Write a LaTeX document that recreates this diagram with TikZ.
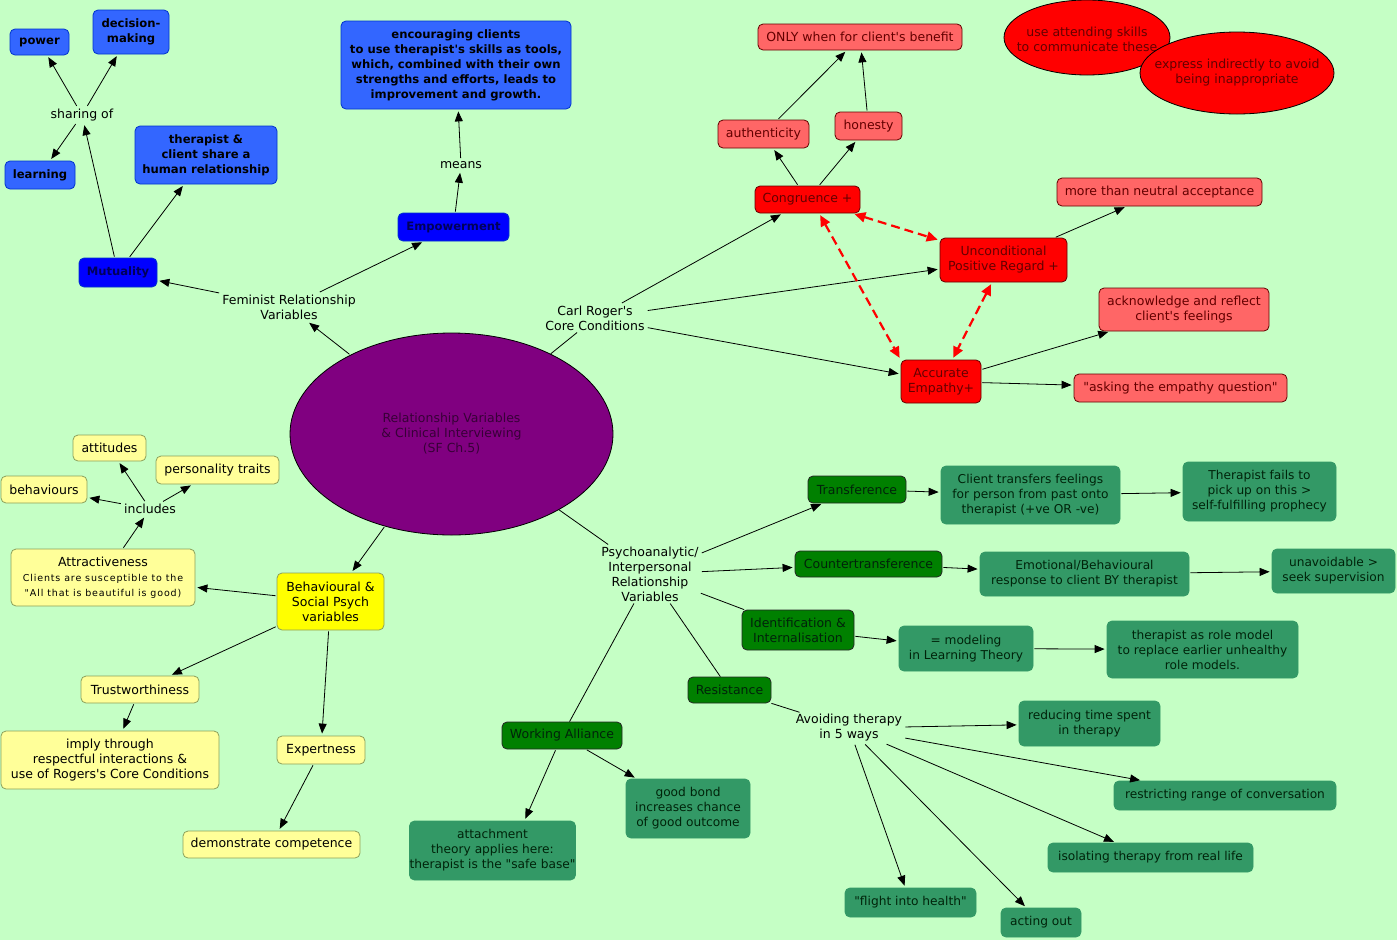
\documentclass[tikz,border=0pt]{standalone}
\usepackage{fontspec}
\setmainfont{DejaVu Sans}[Ligatures=TeXOff]
\newfontfamily\spacedfont{DejaVu Sans}[Ligatures=TeXOff,LetterSpace=9]
\newcommand{\smsp}{\spacedfont\fontsize{9.5}{14}\selectfont}
\usetikzlibrary{arrows.meta,shapes.geometric}
\definecolor{cBg}{RGB}{197,255,197}
\definecolor{cBlue}{RGB}{51,102,255}
\definecolor{cBlueB}{RGB}{0,51,204}
\definecolor{cDBlue}{RGB}{0,0,255}
\definecolor{cDBlueT}{RGB}{0,0,90}
\definecolor{cPurple}{RGB}{128,0,128}
\definecolor{cPurpleT}{RGB}{56,0,56}
\definecolor{cLRed}{RGB}{255,102,102}
\definecolor{cRed}{RGB}{255,0,0}
\definecolor{cRedT}{RGB}{100,0,0}
\definecolor{cLYel}{RGB}{255,255,153}
\definecolor{cYel}{RGB}{255,255,0}
\definecolor{cYelB}{RGB}{140,160,90}
\definecolor{cDGreen}{RGB}{0,128,0}
\definecolor{cMGreen}{RGB}{51,153,102}
\definecolor{cGreenT}{RGB}{0,35,10}
\tikzset{
  nbase/.style={rounded corners=5pt, draw, align=center, inner sep=0pt, line width=0.8pt,
    font=\fontsize{12.5}{15}\selectfont},
  bl/.style={nbase, fill=cBlue, draw=cBlueB, text=black, font=\fontsize{11.6}{15}\selectfont\bfseries},
  dbl/.style={nbase, fill=cDBlue, draw=cBlueB, text=cDBlueT, font=\fontsize{11.6}{15}\selectfont\bfseries},
  lred/.style={nbase, fill=cLRed, draw=cRedT, text=cRedT},
  rd/.style={nbase, fill=cRed, draw=cRedT, text=cRedT},
  lyel/.style={nbase, fill=cLYel, draw=cYelB},
  yel/.style={nbase, fill=cYel, draw=cYelB},
  dgr/.style={nbase, fill=cDGreen, draw=black!85, text=cGreenT},
  mgr/.style={nbase, fill=cMGreen, draw=cMGreen, text=cGreenT, font=\fontsize{12.2}{15}\selectfont},
  lbl/.style={align=center, inner sep=2pt, font=\fontsize{12.5}{15}\selectfont},
  oval/.style={ellipse, draw=black, line width=0.8pt, inner sep=0pt},
  arr/.style={draw=black, line width=0.8pt, -{Triangle[length=10pt,width=8pt]}, shorten >=2pt, shorten <=1pt},
  ln/.style={draw=black, line width=0.8pt},
  dsh/.style={draw=red, line width=2.2pt, dash pattern=on 9pt off 5pt,
    {Triangle[length=11pt,width=10pt]}-{Triangle[length=11pt,width=10pt]}, shorten >=2pt, shorten <=2pt},
}
\begin{document}
\begin{tikzpicture}[x=1pt,y=-1pt]
\useasboundingbox (0,0) rectangle (1397,940);
\fill[cBg] (0,0) rectangle (1397,940);

% centre
\node[oval, fill=cPurple, minimum width=323, minimum height=202] (ctr) at (451.5,434) {};
\node[lbl, text=cPurpleT] (ctrt) at (ctr.center) {Relationship Variables\\ \& Clinical Interviewing\\(SF Ch.5)};

% blue
\node[bl, minimum width=59, minimum height=26] (power) at (39.5,42) {power};
\node[bl, minimum width=76, minimum height=44] (dec) at (131,32) {decision-\\making};
\node[bl, minimum width=70, minimum height=28] (learn) at (40,175) {learning};
\node[bl, minimum width=142, minimum height=58] (share) at (206,155) {therapist \&\\client share a\\human relationship};
\node[bl, minimum width=230, minimum height=88] (enc) at (456,65) {encouraging clients\\to use therapist's skills as tools,\\which, combined with their own\\strengths and efforts, leads to\\improvement and growth.};
\node[dbl, minimum width=111, minimum height=28] (emp) at (453.5,227) {Empowerment};
\node[dbl, minimum width=78, minimum height=29] (mut) at (118,272.5) {Mutuality};
\node[lbl] (sharing) at (82,115) {sharing of};
\node[lbl] (means) at (461,165) {means};
\node[lbl] (fem) at (289,307) {Feminist Relationship\\Variables};

% red
\node[lbl] (carl) at (595,318) {Carl Roger's\\Core Conditions};
\node[lred, minimum width=204, minimum height=26] (only) at (860,37) {ONLY when for client's benefit};
\node[lred, minimum width=91, minimum height=28] (auth) at (763.5,134) {authenticity};
\node[lred, minimum width=67, minimum height=28] (hon) at (868.5,126) {honesty};
\node[rd, minimum width=105, minimum height=27] (cong) at (807.5,199.5) {Congruence +};
\node[lred, minimum width=205, minimum height=28] (mtn) at (1159.5,192) {more than neutral acceptance};
\node[rd, minimum width=127, minimum height=44] (upr) at (1003.5,260) {Unconditional\\Positive Regard +};
\node[lred, minimum width=170, minimum height=43] (ack) at (1184,309.5) {acknowledge and reflect\\client's feelings};
\node[rd, minimum width=80, minimum height=43] (ae) at (941,381.5) {Accurate\\Empathy+};
\node[lred, minimum width=213, minimum height=28] (ask) at (1180.5,388) {"asking the empathy question"};
\node[oval, fill=cRed, minimum width=166, minimum height=75] (ell1) at (1087,37.5) {};
\node[lbl, text=cRedT] (ell1t) at (1087,39) {use attending skills\\to communicate these};
\node[oval, fill=cRed, minimum width=194, minimum height=82] (ell2) at (1237,73) {};
\node[lbl, text=cRedT] (ell2t) at (ell2.center) {express indirectly to avoid\\being inappropriate};

% yellow
\node[lyel, minimum width=73, minimum height=26] (att) at (109.5,448) {attitudes};
\node[lyel, minimum width=123, minimum height=28] (pers) at (217.5,470) {personality traits};
\node[lyel, minimum width=86, minimum height=27] (beh) at (44,489.5) {behaviours};
\node[lbl] (incl) at (150,509) {includes};
\node[lyel, minimum width=184, minimum height=57] (attr) at (103,577.5)
  {Attractiveness\\{\smsp Clients are susceptible to the}\\{\smsp "All that is beautiful is good)}};
\node[yel, minimum width=107, minimum height=57] (bsp) at (330.5,601.5) {Behavioural \&\\Social Psych\\variables};
\node[lyel, minimum width=118, minimum height=27] (trust) at (140,689.5) {Trustworthiness};
\node[lyel, minimum width=218, minimum height=58] (imply) at (110,760) {imply through\\respectful interactions \&\\use of Rogers's Core Conditions};
\node[lyel, minimum width=88, minimum height=28] (expt) at (321,750) {Expertness};
\node[lyel, minimum width=177, minimum height=27] (demo) at (271.5,844.5) {demonstrate competence};

% green
\node[lbl] (psy) at (650,574) {Psychoanalytic/\\Interpersonal\\Relationship\\Variables};
\node[dgr, minimum width=98, minimum height=27] (trans) at (857,489.5) {Transference};
\node[mgr, minimum width=179, minimum height=58] (ctf) at (1030.5,495) {Client transfers feelings\\for person from past onto\\therapist (+ve OR -ve)};
\node[mgr, minimum width=153, minimum height=59] (tfail) at (1259.5,491.5) {Therapist fails to\\pick up on this >\\self-fulfilling prophecy};
\node[dgr, minimum width=147, minimum height=26] (ctr2) at (868.5,564) {Countertransference};
\node[mgr, minimum width=209, minimum height=44] (emo) at (1084.5,574) {Emotional/Behavioural\\response to client BY therapist};
\node[mgr, minimum width=123, minimum height=44] (unav) at (1333.5,571) {unavoidable >\\seek supervision};
\node[dgr, minimum width=112, minimum height=40] (ident) at (798,630) {Identification \&\\Internalisation};
\node[mgr, minimum width=134, minimum height=45] (model) at (966,648.5) {= modeling\\in Learning Theory};
\node[mgr, minimum width=191, minimum height=57] (role) at (1202.5,649.5) {therapist as role model\\to replace earlier unhealthy\\role models.};
\node[dgr, minimum width=83, minimum height=26] (resist) at (729.5,690) {Resistance};
\node[dgr, minimum width=120, minimum height=27] (work) at (562,735.5) {Working Alliance};
\node[mgr, minimum width=124, minimum height=59] (bond) at (688,808.5) {good bond\\increases chance\\of good outcome};
\node[mgr, minimum width=163, minimum height=59] (attach) at (492.5,850.5) {attachment\\theory applies here:\\therapist is the "safe base"};
\node[lbl] (avoid) at (849,728) {Avoiding therapy\\in 5 ways};
\node[mgr, minimum width=141, minimum height=45] (reduce) at (1089.5,723.5) {reducing time spent\\in therapy};
\node[mgr, minimum width=222, minimum height=29] (restr) at (1225,795.5) {restricting range of conversation};
\node[mgr, minimum width=205, minimum height=29] (isol) at (1150.5,857.5) {isolating therapy from real life};
\node[mgr, minimum width=131, minimum height=29] (flight) at (910.5,902.5) {"flight into health"};
\node[mgr, minimum width=80, minimum height=29] (acting) at (1041,922.5) {acting out};

% connectors: feminist
\draw[arr] (ctr) -- (fem);
\draw[arr] (fem) -- (mut);
\draw[arr] (fem) -- (emp);
\draw[arr] (emp) -- (means);
\draw[arr] (means) -- (enc);
\draw[arr] (mut) -- (sharing);
\draw[arr] (mut) -- (share);
\draw[arr] (sharing) -- (power);
\draw[arr] (sharing) -- (dec);
\draw[arr] (sharing) -- (learn);

% Rogers
\draw[ln] (ctr) -- (carl);
\draw[arr] (carl) -- (cong);
\draw[arr] (carl) -- (upr);
\draw[arr] (carl) -- (ae);
\draw[arr] (cong) -- (auth);
\draw[arr] (cong) -- (hon);
\draw[arr] (auth) -- (only);
\draw[arr] (hon) -- (only);
\draw[arr] (upr) -- (mtn);
\draw[arr] (ae) -- (ack);
\draw[arr] (ae) -- (ask);
\draw[dsh] (cong) -- (upr);
\draw[dsh] (cong.-50) -- (ae.north west);
\draw[dsh] (upr) -- (ae);

% behavioural
\draw[arr] (ctr) -- (bsp);
\draw[arr] (bsp) -- (attr);
\draw[arr] (attr) -- (incl);
\draw[arr] (incl) -- (beh);
\draw[arr] (incl) -- (att);
\draw[arr] (incl) -- (pers);
\draw[arr] (bsp) -- (trust);
\draw[arr] (trust) -- (imply);
\draw[arr] (bsp) -- (expt);
\draw[arr] (expt) -- (demo);

% psychoanalytic
\draw[ln] (ctr) -- (psy);
\draw[arr] (psy) -- (trans);
\draw[arr] (psy) -- (ctr2);
\draw[ln] (psy) -- (ident);
\draw[ln] (psy) -- (resist);
\draw[ln] (psy) -- (work);
\draw[arr] (trans) -- (ctf);
\draw[arr] (ctf) -- (tfail);
\draw[arr] (ctr2) -- (emo);
\draw[arr] (emo) -- (unav);
\draw[arr] (ident) -- (model);
\draw[arr] (model) -- (role);
\draw[ln] (resist) -- (avoid);
\draw[arr] (avoid) -- (reduce);
\draw[arr] (avoid) -- (restr);
\draw[arr] (avoid) -- (isol);
\draw[arr] (avoid) -- (flight);
\draw[arr] (avoid) -- (acting);
\draw[arr] (work) -- ([xshift=32]attach.north);
\draw[arr] (work) -- (bond);
\end{tikzpicture}
\end{document}
